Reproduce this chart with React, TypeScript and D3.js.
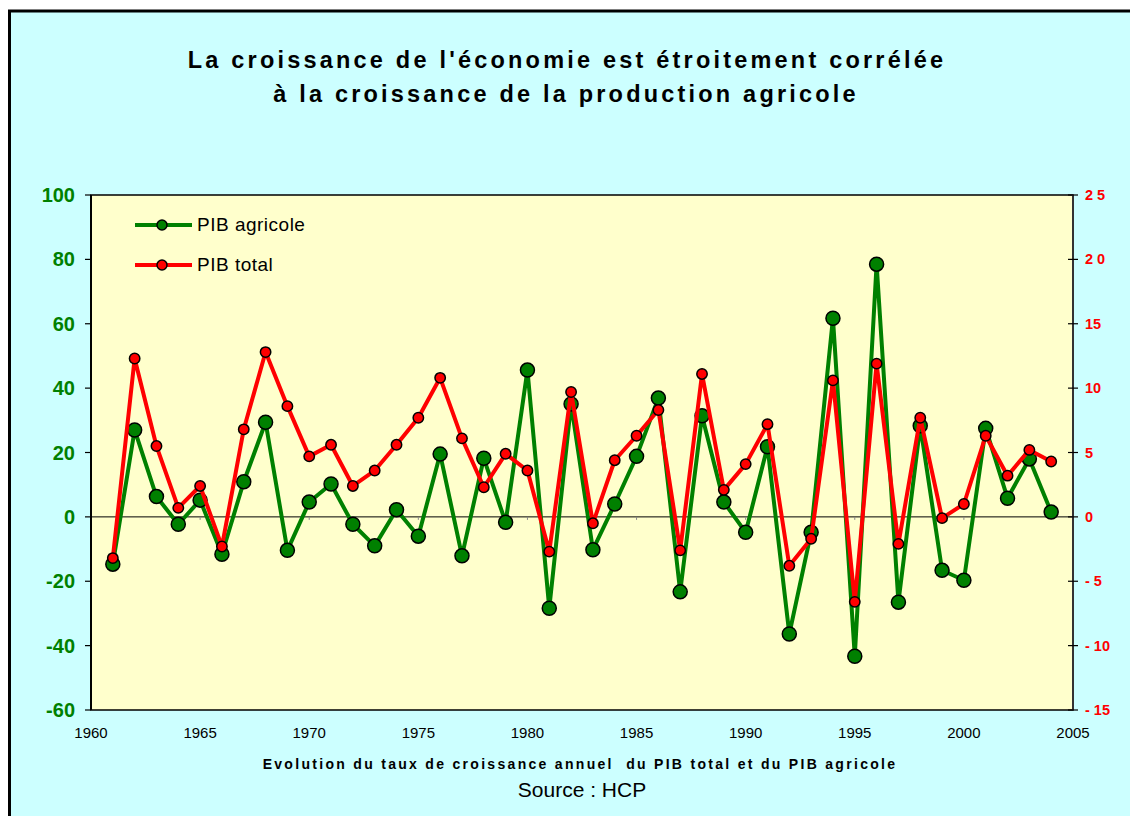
import React from 'react';
import * as d3 from 'd3';

// years 1961..2004
const years = d3.range(1961, 2005);

// taux de croissance annuel du PIB agricole (%), axe gauche
const pibAgricole = [
  -14.7, 27.0, 6.3, -2.3, 5.2, -11.6, 10.9, 29.4, -10.4, 4.6,
  10.2, -2.3, -9.0, 2.2, -6.0, 19.5, -12.1, 18.2, -1.7, 45.6,
  -28.4, 35.1, -10.2, 4.0, 18.8, 36.9, -23.3, 31.4, 4.6, -4.8,
  21.8, -36.4, -4.8, 61.7, -43.3, 78.5, -26.5, 28.3, -16.6, -19.7,
  27.5, 5.8, 18.0, 1.5,
];

// taux de croissance annuel du PIB total (%), axe droit
const pibTotal = [
  -3.2, 12.3, 5.5, 0.7, 2.4, -2.3, 6.8, 12.8, 8.6, 4.7,
  5.6, 2.4, 3.6, 5.6, 7.7, 10.8, 6.1, 2.3, 4.9, 3.6,
  -2.7, 9.7, -0.5, 4.4, 6.3, 8.3, -2.6, 11.1, 2.1, 4.1,
  7.2, -3.8, -1.7, 10.6, -6.6, 11.9, -2.1, 7.7, -0.1, 1.0,
  6.3, 3.2, 5.2, 4.3,
];

const xTicks = [1960, 1965, 1970, 1975, 1980, 1985, 1990, 1995, 2000, 2005];
const leftTicks = [100, 80, 60, 40, 20, 0, -20, -40, -60];
const rightTicks = [25, 20, 15, 10, 5, 0, -5, -10, -15];
const rightTickLabels = ['2 5', '2 0', '15', '10', '5', '0', '- 5', '- 10', '- 15'];

const font = 'Arial, "Liberation Sans", sans-serif';

const App = () => {
  const left = 91, right = 1073, top = 195, bottom = 710;

  const x = d3.scaleLinear().domain([1960, 2005]).range([left, right]);
  const yL = d3.scaleLinear().domain([-60, 100]).range([bottom, top]);
  const yR = d3.scaleLinear().domain([-15, 25]).range([bottom, top]);

  const lineAgr = d3.line<number>().x((_, i) => x(years[i])).y(d => yL(d));
  const lineTot = d3.line<number>().x((_, i) => x(years[i])).y(d => yR(d));

  return (
    <svg width={1130} height={816} style={{ position: 'absolute', left: 0, top: 0 }}>
      <rect x={0} y={0} width={1130} height={816} fill="#fff" />
      {/* outer frame */}
      <rect x={9.5} y={11} width={1130} height={820} fill="#CCFFFF" stroke="#000" strokeWidth={3} />

      <text x={567} y={68} textAnchor="middle" fontFamily={font} fontWeight="bold" fontSize={23.5} letterSpacing={3.2}>
        La croissance de l'économie est étroitement corrélée
      </text>
      <text x={566} y={102} textAnchor="middle" fontFamily={font} fontWeight="bold" fontSize={23.5} letterSpacing={3.2}>
        à la croissance de la production agricole
      </text>

      {/* plot area */}
      <rect x={left} y={top} width={right - left} height={bottom - top} fill="#FFFFCC" stroke="#000" strokeWidth={1.5} />

      {/* zero line with small ticks */}
      <line x1={left} x2={right} y1={yL(0)} y2={yL(0)} stroke="#000" strokeWidth={1} />
      {xTicks.slice(1, -1).map(t => (
        <line key={t} x1={x(t)} x2={x(t)} y1={yL(0)} y2={yL(0) + 3} stroke="#888" strokeWidth={1} />
      ))}

      {/* left axis */}
      <line x1={left} x2={left} y1={top} y2={bottom} stroke="#000" strokeWidth={2} />
      {leftTicks.map(t => (
        <g key={t}>
          <line x1={left - 6} x2={left} y1={yL(t)} y2={yL(t)} stroke="#000" strokeWidth={1.2} />
          <text x={75} y={yL(t) + 7} textAnchor="end" fontFamily={font} fontWeight="bold" fontSize={20} fill="#008000">
            {t}
          </text>
        </g>
      ))}

      {/* right axis */}
      <line x1={right} x2={right} y1={top} y2={bottom} stroke="#333" strokeWidth={2} />
      {rightTicks.map((t, i) => (
        <g key={t}>
          <line x1={right - 5} x2={right + 5} y1={yR(t)} y2={yR(t)} stroke="#000" strokeWidth={1.2} />
          <text x={1085} y={yR(t) + 5} fontFamily={font} fontWeight="bold" fontSize={14.5} fill="#FF0000">
            {rightTickLabels[i]}
          </text>
        </g>
      ))}

      {/* x labels */}
      {xTicks.map(t => (
        <text key={t} x={x(t)} y={738} textAnchor="middle" fontFamily={font} fontSize={15} fill="#000">
          {t}
        </text>
      ))}

      {/* series */}
      <path d={lineAgr(pibAgricole) ?? ''} fill="none" stroke="#008000" strokeWidth={4} strokeLinejoin="round" />
      {pibAgricole.map((v, i) => (
        <circle key={'a' + i} cx={x(years[i])} cy={yL(v)} r={7} fill="#008000" stroke="#000" strokeWidth={1.5} />
      ))}
      <path d={lineTot(pibTotal) ?? ''} fill="none" stroke="#FF0000" strokeWidth={4} strokeLinejoin="round" />
      {pibTotal.map((v, i) => (
        <circle key={'t' + i} cx={x(years[i])} cy={yR(v)} r={5.2} fill="#FF0000" stroke="#000" strokeWidth={1.5} />
      ))}

      {/* legend */}
      <line x1={135} x2={192} y1={225} y2={225} stroke="#008000" strokeWidth={4} />
      <circle cx={162} cy={225} r={5} fill="#008000" stroke="#000" strokeWidth={1.5} />
      <text x={197} y={231} fontFamily={font} fontSize={19} letterSpacing={0.5}>PIB agricole</text>
      <line x1={135} x2={192} y1={265} y2={265} stroke="#FF0000" strokeWidth={4} />
      <circle cx={162} cy={265} r={5} fill="#FF0000" stroke="#000" strokeWidth={1.5} />
      <text x={197} y={271} fontFamily={font} fontSize={19} letterSpacing={0.5}>PIB total</text>

      <text x={580} y={769} textAnchor="middle" fontFamily={font} fontWeight="bold" fontSize={14} letterSpacing={2.3} style={{ whiteSpace: 'pre' }}>
        {'Evolution du taux de croissance annuel  du PIB total et du PIB agricole'}
      </text>
      <text x={582} y={797} textAnchor="middle" fontFamily={font} fontSize={21}>
        Source : HCP
      </text>
    </svg>
  );
};

export default App;
